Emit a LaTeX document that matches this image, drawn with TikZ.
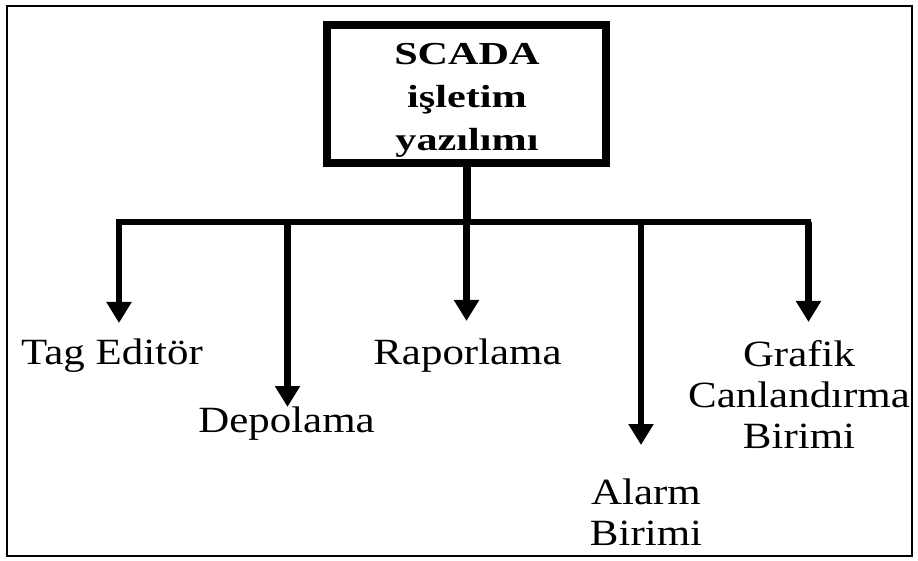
\documentclass[tikz,border=0pt]{standalone}
\usepackage{fontspec}
\setmainfont{Liberation Serif}
\newfontfamily\labelfont[FakeStretch=1.16]{Liberation Serif}
\newfontfamily\titlefont[FakeStretch=1.32]{Liberation Serif}
\usetikzlibrary{arrows.meta}

\begin{document}
\begin{tikzpicture}[x=1pt,y=-1pt,
  frame/.style={draw=black,line width=2.2pt},
  mainbox/.style={draw=black,line width=8pt,minimum width=279pt,minimum height=138pt,inner sep=0pt},
  boxtext/.style={inner sep=0pt,align=center,font=\titlefont\bfseries\fontsize{32}{43}\selectfont},
  lbl/.style={inner sep=0pt,anchor=north,align=center,font=\labelfont\fontsize{37}{41}\selectfont},
  bus/.style={line width=5.5pt,line cap=rect},
  feed/.style={line width=8pt},
  branch/.style={line width=6.5pt,-{Triangle[width=24pt,length=21pt]}},
]
\useasboundingbox (0,0) rectangle (918,561);
\draw[frame] (7,6) rectangle (912,556);

% root box
\node[mainbox] (scada) at (466.5,94.5) {};
\node[boxtext] (scadatxt) at (467,100) {SCADA\\işletim\\yazılımı};

% junctions on the distribution bar
\coordinate (hub)  at (466.5,222);
\coordinate (jTag) at (119,222);
\coordinate (jDep) at (287.5,222);
\coordinate (jAla) at (641,222);
\coordinate (jGra) at (808.5,222);

% leaf labels
\node[lbl,outer ysep=16pt] (tag) at (112,323) {Tag Editör};
\node[lbl,outer ysep=0pt]  (dep) at (286.5,407) {Depolama};
\node[lbl,outer ysep=18pt] (rap) at (467.5,321) {Raporlama};
\node[lbl,outer ysep=34pt] (ala) at (646,445) {Alarm\\Birimi};
\node[lbl,outer ysep=18pt] (gra) at (799,322) {Grafik\\Canlandırma\\Birimi};

% connectors
\draw[feed] (scada.south) -- (hub);
\draw[bus] (jTag) -- (jGra);
\draw[branch] (jTag) -- (jTag |- tag.north);
\draw[branch] (jDep) -- (jDep |- dep.north);
\draw[branch] (hub)  -- (hub |- rap.north);
\draw[branch] (jAla) -- (jAla |- ala.north);
\draw[branch] (jGra) -- (jGra |- gra.north);
\end{tikzpicture}
\end{document}
